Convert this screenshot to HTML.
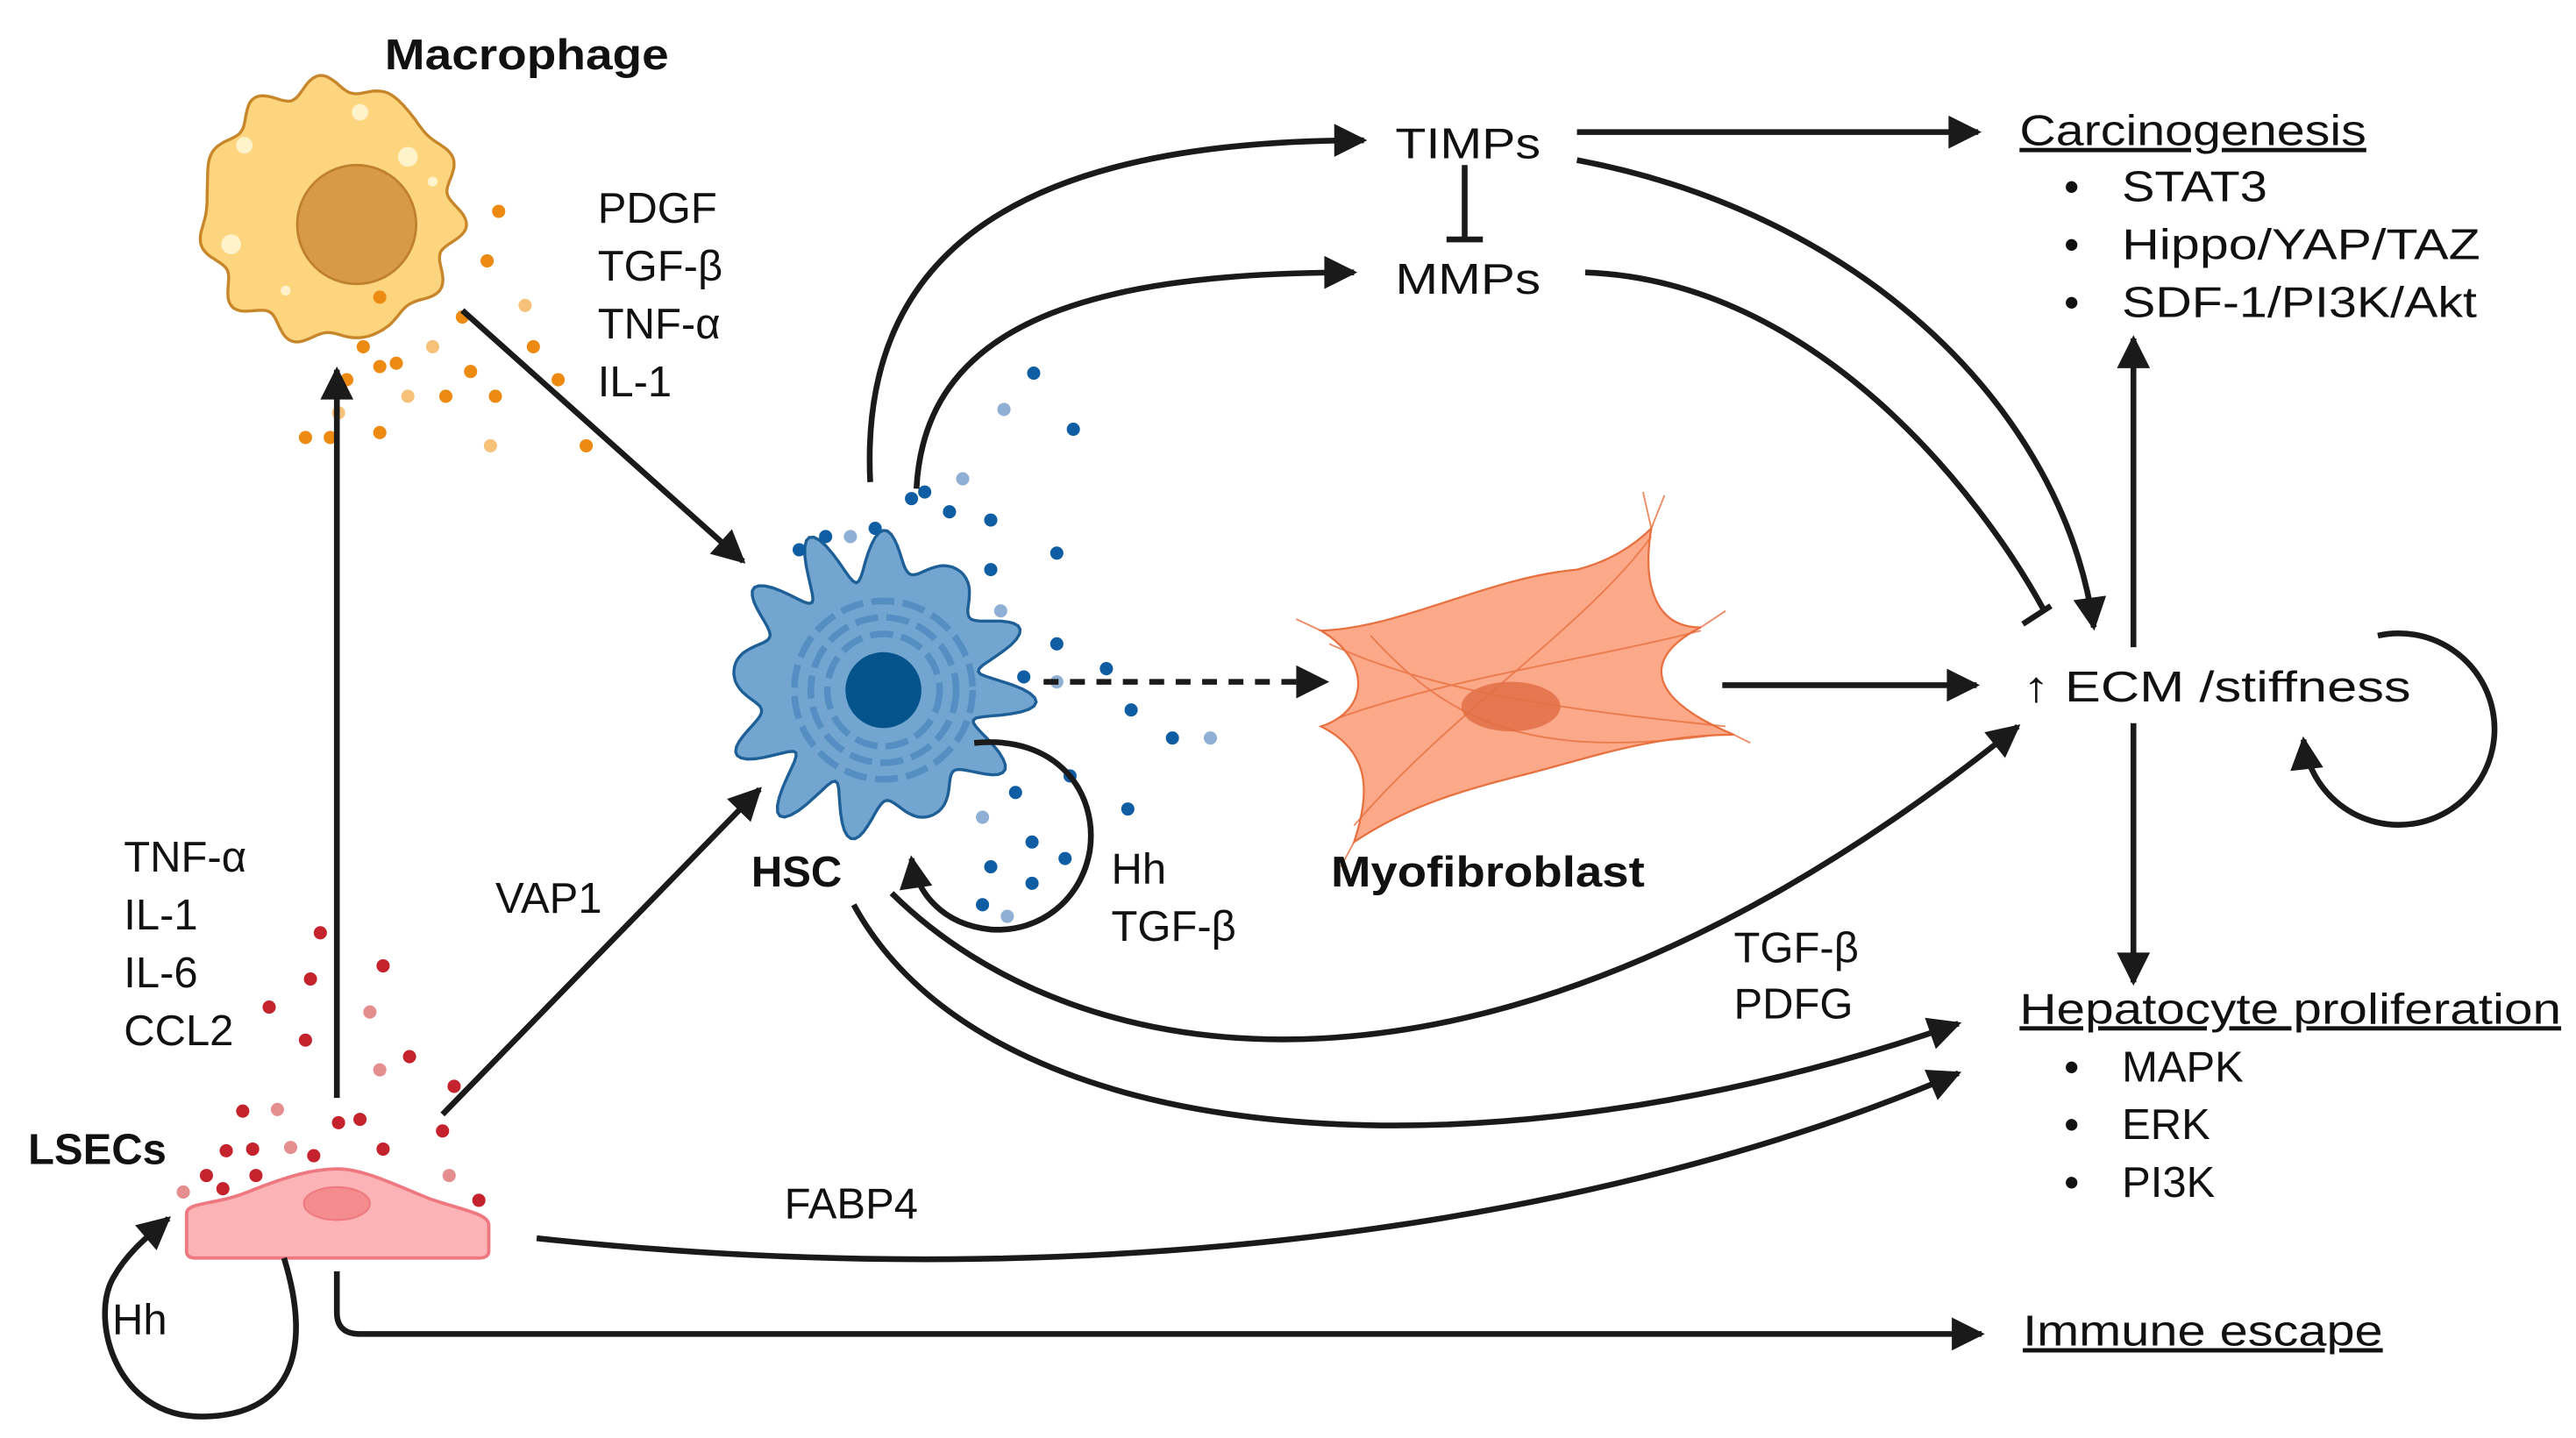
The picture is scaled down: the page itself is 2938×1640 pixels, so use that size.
<!DOCTYPE html>
<html><head><meta charset="utf-8"><style>
html,body{margin:0;padding:0;background:#fff;}
svg{display:block;}
text{font-family:"Liberation Sans",Arial,sans-serif;fill:#111;}
</style></head><body>
<svg id="s" width="2938" height="1640" viewBox="0 0 1560 871" preserveAspectRatio="none" xmlns="http://www.w3.org/2000/svg">
<defs>
<marker id="A" viewBox="0 0 10 10" refX="9" refY="5" markerWidth="22" markerHeight="20" markerUnits="userSpaceOnUse" orient="auto"><path d="M0,0L10,5L0,10z" fill="#1a1a1a"/></marker>
</defs>
<g id="cells">
<circle id="macf" cx="200" cy="128" r="76" fill="#fdd57e" stroke="#c8862a" stroke-width="2"/>
<circle cx="216" cy="136" r="36" fill="#d99a48" stroke="#c0812f" stroke-width="1.5"/>
<circle cx="148" cy="88" r="5" fill="#fff3cc"/><circle cx="247" cy="95" r="6" fill="#fff3cc"/><circle cx="218" cy="68" r="5" fill="#fff3cc"/><circle cx="140" cy="148" r="6" fill="#fff3cc"/><circle cx="173" cy="176" r="3" fill="#fff3cc"/><circle cx="262" cy="110" r="3" fill="#fff3cc"/>
<circle id="hscf" cx="530" cy="415" r="78" fill="#72a5cf" stroke="#1d5f96" stroke-width="1.5"/>
<g fill="none" stroke="#4f89bf" stroke-width="4" stroke-dasharray="14 5" opacity="0.8">
<circle cx="535" cy="418" r="34"/><circle cx="535" cy="418" r="44"/><circle cx="535" cy="418" r="54"/>
</g>
<circle cx="535" cy="418" r="23" fill="#04548b"/>
<path d="M800,382 C850,380 900,350 955,345 C975,340 990,330 1000,320 C995,350 1000,380 1030,380 C1000,395 990,420 1050,445 C1000,445 960,460 920,470 C880,480 850,490 820,510 C830,480 830,455 800,440 C830,430 830,400 800,382z" fill="#fca98a" stroke="#e8703f" stroke-width="1.2"/>
<g stroke="#e8703f" stroke-width="1" fill="none" opacity="0.8">
<path d="M805,390 C870,420 950,430 1045,440"/><path d="M820,500 C880,430 960,380 1000,325"/><path d="M810,435 C880,410 960,400 1030,382"/><path d="M830,385 C880,440 930,460 1040,445"/>
<path d="M1000,320 L1008,300 M1000,320 L995,298 M1030,380 L1045,370 M1050,445 L1060,450 M800,382 L785,375 M820,510 L812,525"/>
</g>
<ellipse cx="915" cy="428" rx="30" ry="15" fill="#e07045" opacity="0.85"/>
<path d="M113,758 L113,735 C113,728 130,730 150,722 C175,712 190,708 205,708 C220,708 240,718 260,726 C280,733 296,735 296,742 L296,758 C296,761 293,762 290,762 L119,762 C115,762 113,761 113,758z" fill="#fbb3b6" stroke="#ee7780" stroke-width="2"/>
<ellipse cx="204" cy="729" rx="20" ry="10" fill="#f48b8d" stroke="#ee7780" stroke-width="1"/>
</g>
<g id="dots"></g>
<g fill="none" stroke="#1a1a1a" stroke-width="3.5">
<path d="M280,188 L450,340" marker-end="url(#A)"/>
<path d="M204,665 L204,224" marker-end="url(#A)"/>
<path d="M268,675 L460,478" marker-end="url(#A)"/>
<path d="M527,292 C520,150 620,85 826,85" marker-end="url(#A)"/>
<path d="M555,296 C560,200 650,165 820,165" marker-end="url(#A)"/>
<path d="M887,100 L887,145"/><path d="M876,145 L898,145"/>
<path d="M955,80 L1198,80" marker-end="url(#A)"/>
<path d="M955,97 C1130,130 1250,250 1268,380" marker-end="url(#A)"/>
<path d="M960,165 C1100,170 1200,300 1238,370"/><path d="M1225,378 L1242,367"/>
<path d="M632,413 L803,413" stroke-dasharray="9 7" marker-end="url(#A)"/>
<path d="M1043,415 L1197,415" marker-end="url(#A)"/>
<path d="M1292,392 L1292,205" marker-end="url(#A)"/>
<path d="M1292,438 L1292,595" marker-end="url(#A)"/>
<path d="M1440,385 A58,58 0 1,1 1395,448" marker-end="url(#A)"/>
<path d="M540,541 C650,650 900,700 1222,440" marker-end="url(#A)"/>
<path d="M517,548 C600,700 900,720 1186,620" marker-end="url(#A)"/>
<path d="M325,750 C700,790 1000,730 1186,650" marker-end="url(#A)"/>
<path d="M204,770 L204,795 Q204,808 218,808 L1200,808" marker-end="url(#A)"/>
<path d="M172,762 C190,820 175,858 122,858 C70,858 55,800 68,775 C76,760 88,750 102,738" marker-end="url(#A)"/>
<path d="M590,450 C640,445 665,480 660,515 C655,545 630,565 600,563 C570,560 555,540 552,520" marker-end="url(#A)"/>
</g>
<g font-size="26">
<text x="233" y="42" font-weight="bold" textLength="172" lengthAdjust="spacingAndGlyphs">Macrophage</text>
<text x="362" y="135">PDGF</text><text x="362" y="170">TGF-β</text><text x="362" y="205">TNF-α</text><text x="362" y="240">IL-1</text>
<text x="845" y="96" textLength="88" lengthAdjust="spacingAndGlyphs">TIMPs</text><text x="845" y="178" textLength="88" lengthAdjust="spacingAndGlyphs">MMPs</text>
<text x="1223" y="88" text-decoration="underline" textLength="210" lengthAdjust="spacingAndGlyphs">Carcinogenesis</text>
<text x="1250" y="122">•</text><text x="1285" y="122" textLength="88" lengthAdjust="spacingAndGlyphs">STAT3</text>
<text x="1250" y="157">•</text><text x="1285" y="157" textLength="217" lengthAdjust="spacingAndGlyphs">Hippo/YAP/TAZ</text>
<text x="1250" y="192">•</text><text x="1285" y="192" textLength="215" lengthAdjust="spacingAndGlyphs">SDF-1/PI3K/Akt</text>
<text x="1225" y="425" textLength="235" lengthAdjust="spacingAndGlyphs">↑ ECM /stiffness</text>
<text x="455" y="537" font-weight="bold">HSC</text>
<text x="806" y="537" font-weight="bold" textLength="190" lengthAdjust="spacingAndGlyphs">Myofibroblast</text>
<text x="673" y="535">Hh</text><text x="673" y="570">TGF-β</text>
<text x="1050" y="583">TGF-β</text><text x="1050" y="617">PDFG</text>
<text x="1223" y="620" text-decoration="underline" textLength="328" lengthAdjust="spacingAndGlyphs">Hepatocyte proliferation</text>
<text x="1250" y="655">•</text><text x="1285" y="655">MAPK</text>
<text x="1250" y="690">•</text><text x="1285" y="690">ERK</text>
<text x="1250" y="725">•</text><text x="1285" y="725">PI3K</text>
<text x="75" y="528">TNF-α</text><text x="75" y="563">IL-1</text><text x="75" y="598">IL-6</text><text x="75" y="633">CCL2</text>
<text x="300" y="553">VAP1</text>
<text x="17" y="705" font-weight="bold">LSECs</text>
<text x="475" y="738">FABP4</text>
<text x="1225" y="815" text-decoration="underline" textLength="218" lengthAdjust="spacingAndGlyphs">Immune escape</text>
<text x="68" y="808">Hh</text>
</g>
<script>
(function(){
var NS="http://www.w3.org/2000/svg";
function blob(cx,cy,r,amp,n,ph,fill,stroke,id){
 var d="";for(var i=0;i<=240;i++){var t=i/240*Math.PI*2;var rr=r+amp*Math.sin(n*t+ph)+amp*0.5*Math.sin((n+3)*t);
 var x=cx+rr*Math.cos(t),y=cy+rr*Math.sin(t);d+=(i?"L":"M")+x.toFixed(1)+","+y.toFixed(1);}
 var p=document.createElementNS(NS,"path");p.setAttribute("d",d+"z");p.setAttribute("fill",fill);p.setAttribute("stroke",stroke);p.setAttribute("stroke-width","1.8");
 var f=document.getElementById(id);f.parentNode.replaceChild(p,f);}
blob(200,128,77,4,11,0.5,"#fdd57e","#c8862a","macf");
blob(530,415,80,12,12,0.3,"#72a5cf","#1d5f96","hscf");
var g=document.getElementById("dots");
function dots(list,col,col2){list.forEach(function(p,i){var c=document.createElementNS(NS,"circle");c.setAttribute("cx",p[0]);c.setAttribute("cy",p[1]);c.setAttribute("r",4);c.setAttribute("fill",i%4==3?col2:col);g.appendChild(c);});}
dots([[302,128],[295,158],[280,192],[262,210],[240,220],[230,222],[210,230],[205,250],[185,265],[200,265],[230,262],[247,240],[270,240],[300,240],[285,225],[318,185],[323,210],[338,230],[355,270],[297,270],[230,180],[220,210]],"#ec8a12","#f6c27a");
dots([[500,325],[530,320],[552,302],[583,290],[560,298],[600,315],[600,345],[606,370],[640,335],[650,260],[626,226],[608,248],[575,310],[620,410],[640,390],[640,413],[670,405],[685,430],[710,447],[733,447],[615,480],[625,510],[648,470],[595,495],[600,525],[625,535],[595,548],[610,555],[645,520],[683,490],[484,333],[515,325]],"#0f5ea3","#8fb0d4");
dots([[194,565],[232,585],[188,593],[224,613],[163,610],[185,630],[147,673],[168,672],[205,680],[218,678],[248,640],[230,648],[275,658],[137,697],[153,696],[176,695],[190,700],[232,696],[125,712],[111,722],[135,720],[155,712],[268,685],[272,712],[290,727]],"#c4222c","#e58e90");
})();
</script>
</svg>
</body></html>
